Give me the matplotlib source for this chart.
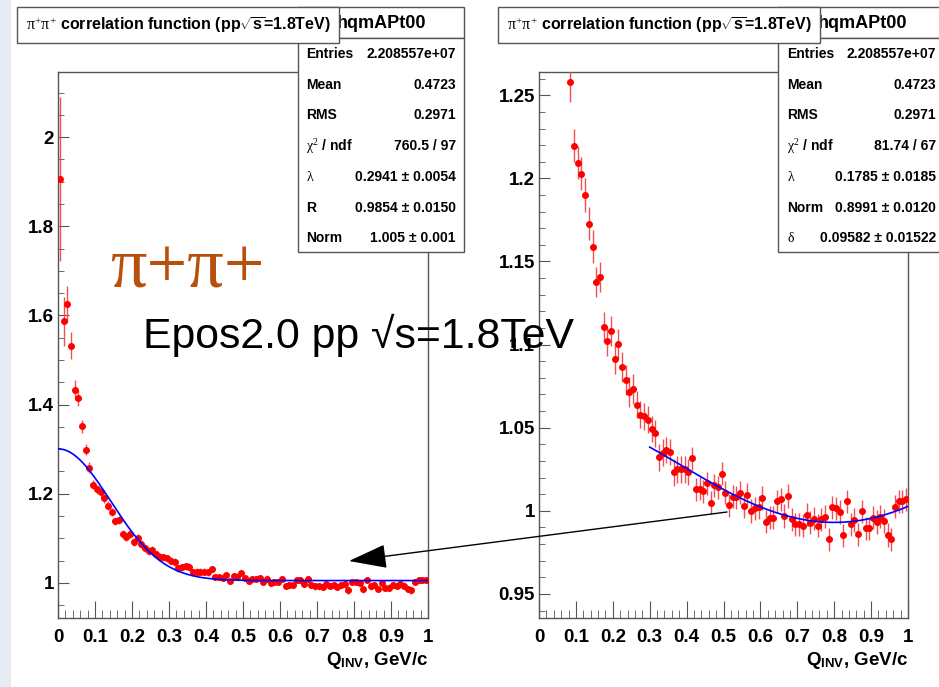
import numpy as np
import matplotlib.pyplot as plt
from matplotlib.patches import Rectangle, FancyArrowPatch
from matplotlib.ticker import MultipleLocator, FormatStrFormatter

plt.rcParams['font.family'] = ['Liberation Sans', 'DejaVu Sans']
plt.rcParams['mathtext.fontset'] = 'custom'
plt.rcParams['mathtext.rm'] = 'Liberation Serif'
plt.rcParams['mathtext.it'] = 'Liberation Serif:italic'
plt.rcParams['mathtext.bf'] = 'Liberation Sans:bold'
plt.rcParams['mathtext.sf'] = 'Liberation Sans:bold'
plt.rcParams['mathtext.default'] = 'rm'

# correlation function C(Q_inv), 100 bins of 0.01 GeV/c
qinv = np.arange(100) * 0.01 + 0.005
corr = [1.905, 1.587, 1.625, 1.532, 1.432, 1.414, 1.351, 1.299, 1.258, 1.2197,
        1.2094, 1.2028, 1.190, 1.1727, 1.1589, 1.1378, 1.1408, 1.1105, 1.1024, 1.1084,
        1.0914, 1.1004, 1.0864, 1.0787, 1.0713, 1.0731, 1.0639, 1.0578, 1.0569, 1.0548,
        1.0492, 1.0466, 1.0322, 1.0349, 1.0366, 1.0354, 1.0231, 1.0249, 1.0249, 1.0249,
        1.0233, 1.0316, 1.0129, 1.0133, 1.0117, 1.0165, 1.0048, 1.0153, 1.0141, 1.0223,
        1.0108, 1.0034, 1.0084, 1.0081, 1.0108, 1.0026, 1.0096, 0.9998, 1.0016, 1.0022,
        1.0077, 0.9934, 0.9958, 0.9958, 1.0058, 1.0070, 0.9968, 1.0089, 0.9948, 0.9918,
        0.9918, 0.9910, 0.9976, 0.9928, 0.9952, 0.9910, 0.9948, 0.9964, 0.9828, 1.0020,
        1.0014, 0.9992, 0.9852, 1.0057, 0.9918, 0.9944, 0.9858, 0.9996, 0.9894, 0.9894,
        0.9958, 0.9932, 0.9964, 0.9938, 0.9855, 0.9828, 1.0024, 1.0057, 1.0058, 1.0070]
corr_err = [0.184, 0.055, 0.040, 0.030, 0.022, 0.018, 0.015, 0.013, 0.012, 0.010,
            0.010, 0.010, 0.010, 0.010, 0.010, 0.009, 0.009, 0.009, 0.009, 0.009,
            0.009, 0.009, 0.009, 0.009, 0.009, 0.009, 0.008, 0.008, 0.008, 0.008,
            0.008, 0.008, 0.008, 0.008, 0.008, 0.008, 0.008, 0.008, 0.008, 0.008,
            0.008, 0.007, 0.007, 0.007, 0.007, 0.007, 0.007, 0.007, 0.007, 0.007,
            0.007, 0.007, 0.007, 0.007, 0.007, 0.007, 0.007, 0.007, 0.007, 0.007,
            0.007, 0.007, 0.007, 0.007, 0.007, 0.007, 0.007, 0.007, 0.007, 0.007,
            0.007, 0.007, 0.007, 0.007, 0.007, 0.007, 0.007, 0.007, 0.007, 0.007,
            0.007, 0.007, 0.007, 0.007, 0.007, 0.007, 0.007, 0.007, 0.007, 0.007,
            0.007, 0.007, 0.007, 0.007, 0.007, 0.007, 0.007, 0.007, 0.007, 0.007]

# fit results
HBARC = 0.1973
gaus_lambda, gaus_R, gaus_norm = 0.2941, 0.9854, 1.005
poly_lambda, poly_norm, poly_delta = 0.1785, 0.8991, 0.09582
poly_R = 0.3  # fixed in the second fit

stats_left = [('Entries', '2.208557e+07'), ('Mean', '0.4723'), ('RMS', '0.2971'),
              (r'$\chi^{2}$ / ndf', '760.5 / 97'), (r'$\lambda$', '0.2941 ± 0.0054'),
              ('R', '0.9854 ± 0.0150'), ('Norm', '1.005 ± 0.001')]
stats_right = [('Entries', '2.208557e+07'), ('Mean', '0.4723'), ('RMS', '0.2971'),
               (r'$\chi^{2}$ / ndf', '81.74 / 67'), (r'$\lambda$', '0.1785 ± 0.0185'),
               ('Norm', '0.8991 ± 0.0120'), (r'$\delta$', '0.09582 ± 0.01522')]

title = r'$\pi^{+}\pi^{+}$ correlation function (pp$\sqrt{\mathsf{s}}$=1.8TeV)'

W, H = 939, 687
fig = plt.figure(figsize=(W / 100, H / 100), dpi=100)


def fx(x):
    return x / W


def fy(y):
    return 1 - y / H


def box(x0, y0, x1, y1, z=2):
    r = Rectangle((fx(x0), fy(y1)), fx(x1 - x0), (y1 - y0) / H, transform=fig.transFigure,
                  facecolor='white', edgecolor='#555555', lw=1.0, zorder=z)
    fig.patches.append(r)


# pale strip at the left edge
fig.patches.append(Rectangle((0, 0), fx(11), 1, transform=fig.transFigure,
                             facecolor='#e7ebf3', edgecolor='none', zorder=0))


def make_pad(x0, x1, ylo, yhi, ymaj, ymin):
    ax = fig.add_axes([fx(x0), fy(618), fx(x1 - x0), (618 - 72) / H])
    ax.set_xlim(0, 1)
    ax.set_ylim(ylo, yhi)
    ax.xaxis.set_major_locator(MultipleLocator(0.1))
    ax.xaxis.set_minor_locator(MultipleLocator(0.02))
    ax.yaxis.set_major_locator(MultipleLocator(ymaj))
    ax.yaxis.set_minor_locator(MultipleLocator(ymin))
    ax.xaxis.set_major_formatter(FormatStrFormatter('%g'))
    ax.yaxis.set_major_formatter(FormatStrFormatter('%g'))
    for s in ax.spines.values():
        s.set_color('#555555')
        s.set_linewidth(1.0)
    ax.tick_params(which='both', direction='in', top=False, right=False, color='#555555')
    ax.tick_params(axis='x', which='major', length=12, pad=8, labelsize=13.5)
    ax.tick_params(axis='x', which='minor', length=6)
    ax.tick_params(axis='y', which='major', length=8, pad=3, labelsize=13.5)
    ax.tick_params(axis='y', which='minor', length=4.5)
    for lab in ax.get_xticklabels() + ax.get_yticklabels():
        lab.set_fontweight('bold')
    ax.errorbar(qinv, corr, yerr=corr_err, fmt='o', color='#ff0000', ms=4.0,
                ecolor='#f05050', elinewidth=1.0, capsize=0, zorder=3)
    fig.text(fx(x1), fy(665), r'$\mathbf{Q}_{\mathbf{INV}}$, GeV/c', ha='right',
             va='baseline', fontsize=13.5, fontweight='bold')
    return ax


axl = make_pad(58, 428, 0.921, 2.146, 0.2, 0.05)
q = np.linspace(0, 1, 300)
fit_l = gaus_norm * (1 + gaus_lambda * np.exp(-(gaus_R * q / HBARC) ** 2))
axl.plot(q, fit_l, color='#0000ff', lw=1.2, zorder=4)

axr = make_pad(539, 908, 0.9355, 1.264, 0.05, 0.01)
q2 = np.linspace(0.3, 1.0, 300)
fit_r = poly_norm * (1 + poly_delta * q2 ** 2) * (1 + poly_lambda * np.exp(-(poly_R * q2 / HBARC) ** 2))
axr.plot(q2, fit_r, color='#0000ff', lw=1.2, zorder=4)


def stat_box(x0, x1, rows, lab_x, val_x):
    box(x0, 7, x1, 38)
    fig.text(fx((x0 + x1) / 2), fy(23), 'hqmAPt00', ha='center', va='center',
             fontsize=13, fontweight='bold', zorder=5)
    box(x0, 38, x1, 252)
    for i, (lab, val) in enumerate(rows):
        y = 54 + i * 30.7
        fig.text(fx(lab_x), fy(y), lab, ha='left', va='center', fontsize=10,
                 fontweight='bold', zorder=5)
        fig.text(fx(val_x), fy(y), val, ha='right', va='center', fontsize=10,
                 fontweight='bold', zorder=5)


stat_box(298, 464, stats_left, 306, 456)
stat_box(778, 947, stats_right, 787, 936)

# title boxes on top of the stat headers
for x0, x1 in [(17, 339), (498, 820)]:
    box(x0, 7, x1, 43, z=6)
    fig.text(fx((x0 + x1) / 2), fy(25), title, ha='center', va='center',
             fontsize=11.5, fontweight='bold', zorder=7)

fig.text(fx(110), fy(288), 'π+π+', family='Liberation Serif', fontsize=52,
         color='#b8500c', ha='left', va='baseline', zorder=8)
fig.text(fx(143), fy(348), 'Epos2.0 pp √s=1.8TeV', fontsize=30.8, color='black',
         ha='left', va='baseline', zorder=8)

arrow = FancyArrowPatch((fx(727), fy(512)), (fx(349), fy(561)), transform=fig.transFigure,
                        arrowstyle='-|>,head_length=2.4,head_width=0.76', mutation_scale=10,
                        color='black', lw=1.0, shrinkA=0, shrinkB=0, zorder=9)
fig.patches.append(arrow)

fig.savefig('out.png', dpi=100)
